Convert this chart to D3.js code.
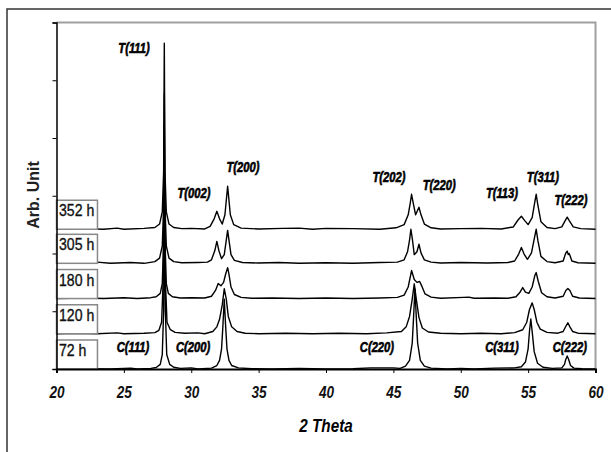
<!DOCTYPE html>
<html>
<head>
<meta charset="utf-8">
<script src="https://cdn.jsdelivr.net/npm/d3@7"></script>
<style>
  body { margin: 0; background: #fff; }
  .tick text { font-family: "Liberation Sans", Arial, sans-serif; font-weight: bold; font-style: italic; }
</style>
</head>
<body>
<div id="chart"></div>
<script>
// sample times (bottom to top) and their vertical offsets
var times = ['72 h', '120 h', '180 h', '305 h', '352 h'];
var offsets = [0, 610, 1220, 1830, 2420];

// [2theta, intensity]
var s72 = [[20,0],[22,5],[24,0],[25.5,15],[26,0],[27,10],[27.4,25],[27.7,80],[27.85,250],[27.95,1000],[28.02,2924],[28.08,1000],[28.18,250],[28.4,80],[28.7,30],[29.2,10],[30,20],[30.5,0],[31.5,15],[31.9,60],[32.1,150],[32.25,350],[32.35,750],[32.45,1210],[32.55,750],[32.65,350],[32.8,150],[33.0,60],[33.5,20],[34.5,5],[36,0],[38,10],[40,0],[42,5],[43.3,20],[45,20],[45.5,10],[45.9,50],[46.2,150],[46.4,450],[46.5,900],[46.6,1385],[46.7,900],[46.8,450],[47.0,150],[47.3,50],[47.8,15],[49,0],[50,10],[51,0],[52.5,15],[54,20],[54.5,40],[54.8,120],[55.0,350],[55.1,650],[55.2,865],[55.3,650],[55.45,300],[55.7,100],[56.1,30],[56.8,10],[57.5,20],[57.7,80],[57.8,170],[57.9,225],[58.0,170],[58.15,60],[58.4,15],[59,5],[60,0]];
var s120 = [[20,0],[21.5,10],[23,0],[24.5,15],[25,0],[26.5,10],[27.3,20],[27.6,60],[27.8,200],[27.93,1000],[28.0,3000],[28.07,1000],[28.2,200],[28.45,70],[28.8,25],[29.5,10],[30.5,15],[31,0],[31.6,40],[31.9,120],[32.1,250],[32.3,500],[32.45,780],[32.6,600],[32.75,300],[33.0,120],[33.4,40],[34,10],[35,0],[37,10],[39,0],[41,10],[43,0],[44.5,15],[45.6,40],[45.95,120],[46.2,300],[46.4,600],[46.55,865],[46.7,600],[46.9,280],[47.15,100],[47.6,30],[48.5,10],[50,0],[51.5,10],[53,0],[54,20],[54.6,70],[54.9,200],[55.1,420],[55.3,535],[55.45,420],[55.65,200],[55.9,80],[56.4,25],[57.2,10],[57.6,40],[57.8,130],[57.95,190],[58.1,120],[58.3,40],[58.7,10],[60,0]];
var s180 = [[20,0],[22,10],[23.5,0],[25,15],[26,0],[27,15],[27.4,30],[27.7,90],[27.85,260],[27.95,1000],[28.0,3000],[28.05,1000],[28.15,260],[28.3,90],[28.6,30],[29.2,10],[30,15],[31,10],[31.5,40],[31.8,140],[32.0,260],[32.2,220],[32.4,280],[32.55,420],[32.7,535],[32.8,420],[32.95,200],[33.2,70],[33.7,20],[34.5,5],[36,10],[38,0],[40,10],[42,0],[44,10],[45.3,20],[45.8,60],[46.1,200],[46.35,485],[46.55,330],[46.75,280],[46.95,295],[47.1,220],[47.35,80],[47.8,25],[48.5,5],[50.2,20],[50.6,25],[51,5],[52.5,10],[53.5,5],[54.1,30],[54.4,110],[54.6,190],[54.8,110],[55.05,90],[55.3,200],[55.5,400],[55.6,450],[55.75,300],[56.0,100],[56.4,30],[57,10],[57.6,40],[57.8,140],[57.95,175],[58.1,140],[58.3,40],[58.8,10],[60,0]];
var s305 = [[20,10],[21,25],[22,0],[23,20],[24,0],[25.5,15],[26.5,0],[27.3,30],[27.65,90],[27.85,300],[27.95,1000],[28.0,2945],[28.05,1000],[28.15,300],[28.35,90],[28.7,30],[29.3,10],[30.5,15],[31.2,20],[31.5,60],[31.75,220],[31.9,380],[32.05,220],[32.25,80],[32.45,150],[32.6,400],[32.7,570],[32.8,400],[32.95,150],[33.2,50],[33.8,15],[35,5],[36.5,15],[38,0],[40,10],[42,0],[44,15],[45.3,20],[45.8,60],[46.05,200],[46.2,400],[46.3,590],[46.42,400],[46.55,150],[46.75,200],[46.9,330],[47.05,180],[47.3,60],[47.8,20],[48.5,5],[50,15],[52,5],[53.5,15],[54.0,40],[54.3,160],[54.5,275],[54.7,160],[54.95,70],[55.25,180],[55.45,420],[55.6,590],[55.72,400],[55.95,120],[56.4,30],[57,10],[57.6,40],[57.78,170],[57.9,210],[57.98,150],[58.05,170],[58.25,40],[58.7,10],[60,0]];
var s352 = [[20,0],[22,10],[23.5,0],[24.5,20],[25,0],[26.5,15],[27.3,30],[27.65,90],[27.85,300],[27.95,1000],[28.0,3220],[28.05,1000],[28.15,300],[28.35,90],[28.7,30],[29.3,10],[30,15],[31,5],[31.4,50],[31.7,180],[31.9,310],[32.1,180],[32.3,90],[32.5,250],[32.62,550],[32.7,745],[32.78,550],[32.9,250],[33.15,80],[33.7,20],[35,5],[36.8,15],[38,20],[39,0],[40,15],[42,10],[44,0],[45.2,25],[45.8,80],[46.1,250],[46.25,450],[46.35,605],[46.5,420],[46.65,250],[46.8,330],[46.9,380],[47.05,250],[47.3,90],[47.8,25],[48.5,5],[50,10],[51.5,15],[53,5],[53.9,40],[54.25,160],[54.5,225],[54.75,150],[55.0,80],[55.3,200],[55.5,480],[55.6,605],[55.72,420],[55.95,130],[56.4,30],[57,10],[57.5,40],[57.75,150],[57.9,210],[58.05,150],[58.35,40],[58.9,10],[60,0]];
var series = [s72, s120, s180, s305, s352];

// peak labels: text, 2theta, intensity
var peakText = ['T(111)', 'T(002)', 'T(200)', 'T(202)', 'T(220)', 'T(113)', 'T(311)', 'T(222)',
                'C(111)', 'C(200)', 'C(220)', 'C(311)', 'C(222)'];
var peakX = [25.75, 30.2, 33.84, 44.67, 48.4, 53.06, 56.1, 58.18, 25.68, 30.13, 43.78, 53.06, 58.1];
var peakY = [5480, 2957, 3406, 3233, 3095, 2957, 3233, 2836, 294, 294, 294, 294, 294];

var xTicks = [20, 25, 30, 35, 40, 45, 50, 55, 60];
var yTicks = [0, 1000, 2000, 3000, 4000, 5000, 6000];

var W = 611, H = 452;
var mL = 56.5, mR = 595.5, mT = 22.5, mB = 369;

var svg = d3.select('#chart').append('svg').attr('width', W).attr('height', H);
svg.append('rect').attr('width', W).attr('height', H).attr('fill', '#fff');

// squeeze text horizontally, the original uses a narrow face
function narrow(sel, k) {
  sel.each(function() {
    var len = this.getComputedTextLength();
    d3.select(this).attr('textLength', len * k).attr('lengthAdjust', 'spacingAndGlyphs');
  });
}

// outer frame (only top/left fall inside the picture)
svg.append('rect').attr('x', 7).attr('y', 9).attr('width', W + 10).attr('height', H + 10)
  .attr('fill', 'none').attr('stroke', '#333').attr('stroke-width', 1.5);

var x = d3.scaleLinear().domain([20, 60]).range([mL, mR]);
var y = d3.scaleLinear().domain([0, 6000]).range([mB, mT]);

// plot frame top/right in grey
svg.append('path')
  .attr('d', 'M' + mL + ',' + mT + 'H' + mR + 'V' + mB)
  .attr('fill', 'none').attr('stroke', '#a0a0a0').attr('stroke-width', 2);

var line = d3.line().x(function(d) { return x(d[0]); });

series.forEach(function(s, i) {
  line.y(function(d) { return y(d[1] + offsets[i]); });
  svg.append('path').datum(s).attr('d', line)
    .attr('fill', 'none').attr('stroke', '#000').attr('stroke-width', 1.4)
    .attr('stroke-linejoin', 'round');
});

// time boxes
times.forEach(function(t, i) {
  var yb = y(offsets[i]);
  svg.append('rect').attr('x', x(20)).attr('y', yb - 29).attr('width', x(23.04) - x(20)).attr('height', 29)
    .attr('fill', '#fff').attr('stroke', '#888').attr('stroke-width', 1.5);
  svg.append('text').attr('x', x(20) + 2.5).attr('y', yb - 13).text(t)
    .style('font-family', '"Liberation Sans", Arial, sans-serif').style('font-size', '16px')
    .attr('fill', '#111').attr('stroke', '#111').attr('stroke-width', 0.35)
    .call(narrow, 0.88);
});

// axes
var xAxis = svg.append('g').attr('transform', 'translate(0,' + mB + ')')
  .call(d3.axisBottom(x).tickValues(xTicks).tickSize(4).tickPadding(13).tickFormat(d3.format('d')));
xAxis.select('.domain').attr('stroke-width', 2);
xAxis.selectAll('.tick text').style('font-size', '17px').attr('fill', '#111').call(narrow, 0.8);

var yAxis = svg.append('g').attr('transform', 'translate(' + mL + ',0)')
  .call(d3.axisLeft(y).tickValues(yTicks).tickSize(4).tickFormat(''));
yAxis.select('.domain').attr('stroke-width', 1.5);

// peak labels
svg.selectAll('.peak').data(peakText).enter().append('text')
  .attr('class', 'peak')
  .attr('x', function(d, i) { return x(peakX[i]); })
  .attr('y', function(d, i) { return y(peakY[i]); })
  .attr('text-anchor', 'middle')
  .style('font-family', '"Liberation Sans", Arial, sans-serif')
  .style('font-weight', 'bold').style('font-style', 'italic').style('font-size', '14px')
  .attr('stroke', '#000').attr('stroke-width', 0.6)
  .text(function(d) { return d; })
  .call(narrow, 0.8);

// axis titles
svg.append('text').attr('x', (mL + mR) / 2).attr('y', 432).attr('text-anchor', 'middle')
  .style('font-family', '"Liberation Sans", Arial, sans-serif').style('font-weight', 'bold')
  .style('font-style', 'italic').style('font-size', '18px').text('2 Theta').call(narrow, 0.85);

svg.append('text').attr('transform', 'translate(39,195) rotate(-90)').attr('text-anchor', 'middle')
  .style('font-family', '"Liberation Sans", Arial, sans-serif').style('font-weight', 'bold')
  .style('font-size', '16px').attr('fill', '#222').text('Arb. Unit');
</script>
</body>
</html>
